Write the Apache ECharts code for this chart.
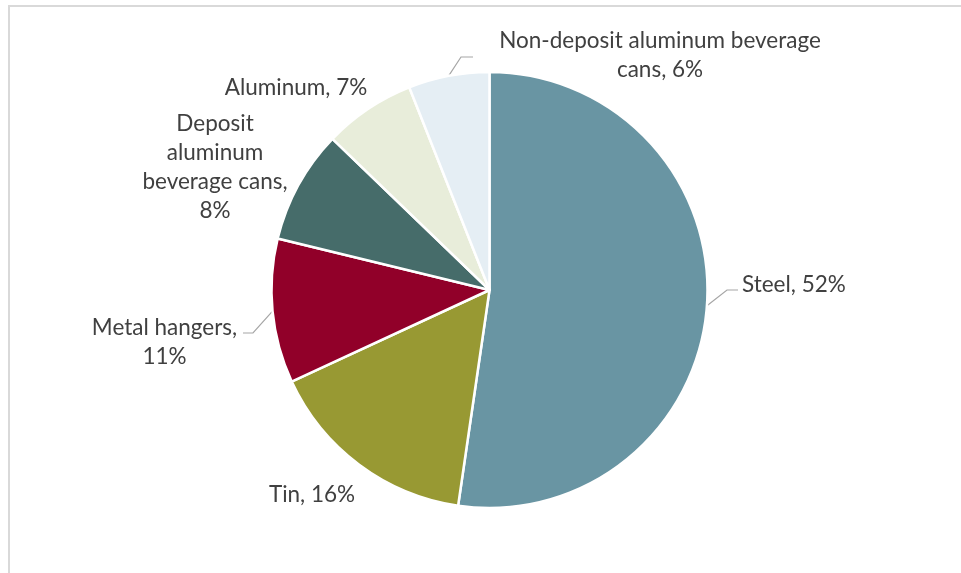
<!DOCTYPE html>
<html><head><meta charset="utf-8">
<script src="https://cdn.jsdelivr.net/npm/echarts@6/dist/echarts.min.js"></script>
<style>html,body{margin:0;padding:0;background:#fff}#c{width:961px;height:573px}</style>
</head><body><div id="c"></div>
<script>
// ---- data ----
const categories = ['Steel', 'Tin', 'Metal hangers', 'Deposit aluminum beverage cans', 'Aluminum', 'Non-deposit aluminum beverage cans'];
const values = [52.3, 15.8, 10.7, 8.4, 6.8, 6.0];
// label text as wrapped in the reference (percent appended from the data)
const labelNames = [
  ['Steel,'],
  ['Tin,'],
  ['Metal hangers,', ''],
  ['Deposit', 'aluminum', 'beverage cans,', ''],
  ['Aluminum,'],
  ['Non-deposit aluminum beverage', 'cans,']
];
const colors = ['#6995A3', '#989933', '#910029', '#466C6A', '#E8EDDA', '#E5EEF4'];

// ---- label layout (positions only) ----
const labelPos = [
  { x: 742, y: 285, align: 'left' },
  { x: 312, y: 495, align: 'center' },
  { x: 164.5, y: 342, align: 'center' },
  { x: 215, y: 167, align: 'center' },
  { x: 296, y: 88, align: 'center' },
  { x: 660, y: 55, align: 'center' }
];
const leader = {
  0: { bend: [727, 290], end: [738, 290] },
  2: { bend: [253, 333], end: [243, 333] },
  5: { bend: [461, 57], end: [473, 57] }
};

function labelText(p) {
  const parts = labelNames[p.dataIndex].slice();
  const pct = Math.round(p.percent) + '%';
  const last = parts.length - 1;
  parts[last] = parts[last] ? parts[last] + ' ' + pct : pct;
  return parts.join('\n');
}

const chart = echarts.init(document.getElementById('c'), null, { renderer: 'canvas' });
chart.setOption({
  animation: false,
  backgroundColor: '#ffffff',
  graphic: [{
    type: 'rect', silent: true,
    shape: { x: 9, y: 6, width: 1200, height: 1200 },
    style: { fill: 'none', stroke: '#D9D9D9', lineWidth: 2 }
  }],
  series: [{
    type: 'pie',
    center: [489.5, 290],
    radius: [0, 218],
    startAngle: 90,
    clockwise: true,
    avoidLabelOverlap: false,
    minShowLabelAngle: 0,
    percentPrecision: 2,
    emphasis: { disabled: true },
    itemStyle: { borderColor: '#ffffff', borderWidth: 2.5 },
    label: {
      show: true,
      position: 'outside',
      color: '#404040',
      fontFamily: 'Lato',
      fontSize: 22.5,
      lineHeight: 29,
      formatter: labelText
    },
    labelLine: { show: true, lineStyle: { color: '#A6A6A6', width: 1.2 } },
    labelLayout: function (params) {
      const i = params.dataIndex;
      const lp = labelPos[i];
      const res = { x: lp.x, y: lp.y, align: lp.align, verticalAlign: 'middle' };
      if (leader[i] && params.labelLinePoints) {
        res.labelLinePoints = [params.labelLinePoints[0], leader[i].bend, leader[i].end];
      }
      return res;
    },
    data: categories.map((name, i) => ({
      name: name,
      value: values[i],
      itemStyle: { color: colors[i] },
      labelLine: { show: !!leader[i] }
    }))
  }]
});
</script>
</body></html>
